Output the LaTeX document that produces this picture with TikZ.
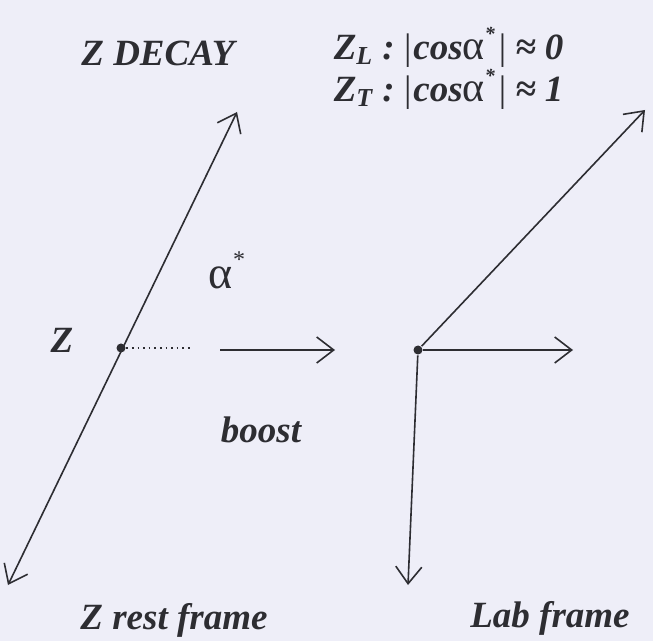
\documentclass[tikz,border=0pt]{standalone}
\usepackage{fontspec}
\setmainfont{Liberation Serif}
\usetikzlibrary{arrows.meta, positioning}
\definecolor{bgpaper}{RGB}{238,238,248}
\definecolor{ink}{RGB}{45,45,50}

\begin{document}
\begin{tikzpicture}[x=0.5pt,y=-0.5pt,line width=0.8pt,
     arrow/.style={draw=ink, -{Straight Barb[length=8.5pt,width=13pt]}},
     lbl/.style={font=\fontsize{18.5}{20}\selectfont\bfseries\itshape, text=ink, inner sep=0pt},
     dot/.style={circle, fill=ink, inner sep=0pt, minimum size=4.5pt}]
     \fill[bgpaper] (0,0) rectangle (653,641);\useasboundingbox (0,0) rectangle (653,641);
     % Z rest frame
     \node (zdot) [dot] at (121,348) {};
     \coordinate (zup) at (237,112);\coordinate (zdown) at (8,585);
     \draw [draw=ink, {Straight Barb[length=8.5pt,width=13pt]}-{Straight Barb[length=8.5pt,width=13pt]}] (zdown) -- (zup);
     \coordinate (dotend) at (193,348);\draw [ink, dotted] (zdot) -- (dotend);
     \node (zlbl) [lbl] at (62,340) {Z};
     \node (alpha) [text=ink, font=\fontsize{23}{24}\selectfont, inner sep=0pt] at (227,270) {α\raisebox{1.0ex}{\fontsize{12}{12}\selectfont *}};
     % boost
     \coordinate (bstart) at (220,350);\coordinate (bend) at (335,350);\draw [arrow] (bstart) -- (bend);
     \node (boost) [lbl] at (261,430) {boost};
     % Lab frame
     \node (ldot) [dot] at (418,350) {};
     \coordinate (lup) at (645,110);\coordinate (lright) at (573,350);\coordinate (ldown) at (408,585);
     \draw [arrow] (ldot) -- (lup);\draw [arrow] (ldot) -- (lright);\draw [arrow] (ldot) -- (ldown);
     % titles
     \node (decay) [lbl] at (158,53) {Z DECAY};
     \node (zl) [lbl, anchor=west] at (333,47) {Z\textsubscript{L}\ :\ {\mdseries\upshape |}\kern1pt cos{\upshape\mdseries\fontsize{21}{20}\selectfont α}\raisebox{1.1ex}{\fontsize{10}{12}\selectfont *}\kern2pt{\mdseries\upshape |}\ ≈\ 0};
     \node (zt) [lbl, anchor=west] at (333,89) {Z\textsubscript{T}\ :\ {\mdseries\upshape |}\kern1pt cos{\upshape\mdseries\fontsize{21}{20}\selectfont α}\raisebox{1.1ex}{\fontsize{10}{12}\selectfont *}\kern2pt{\mdseries\upshape |}\ ≈\ 1};
     \node (rest) [lbl] at (174,620) {Z rest frame};
     \node (lab) [lbl] at (550,618) {Lab frame};
\end{tikzpicture}
\end{document}
